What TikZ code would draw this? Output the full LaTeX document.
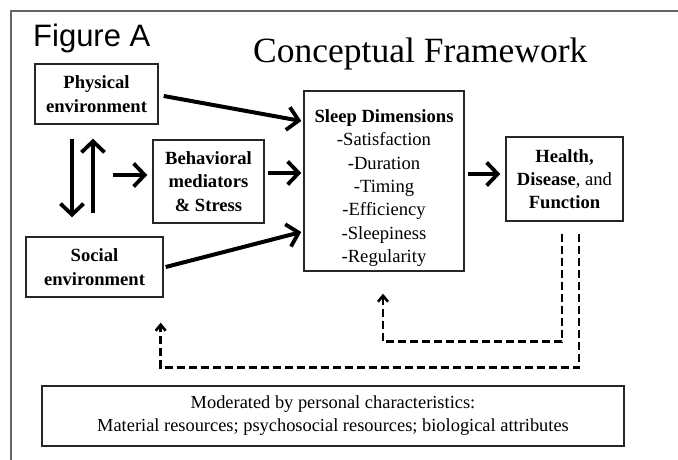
\documentclass[tikz,border=0pt]{standalone}
\usepackage{fontspec}
\setmainfont{Liberation Serif}
\newfontfamily\arialfont{Liberation Sans}
\usetikzlibrary{arrows.meta,calc,shadows}
\begin{document}
\begin{tikzpicture}[x=1pt,y=-1pt,
  boxnode/.style={draw=black!85, fill=white, line width=1.4pt, align=center, inner sep=0pt,
    drop shadow={opacity=0.25, shadow xshift=1.2pt, shadow yshift=-1.2pt}},
  boxfont/.style={font=\fontsize{18.6}{23.3}\selectfont},
  arr/.style={line width=4pt, -{Straight Barb[length=11pt,width=23pt,line width=3.8pt]}},
  dsh/.style={line width=2.6pt, dash pattern=on 8pt off 4pt, -{Straight Barb[length=6pt,width=10pt,line width=2.6pt]}},
  frameline/.style={draw=black!60, line width=2pt}]
\useasboundingbox (0,0) rectangle (678,460);
% outer frame (top and left)
\draw[frameline] (11,460) -- (11,11) -- (678,11);
% titles
\node[anchor=base west, inner sep=0pt, font=\arialfont\fontsize{31}{36}\selectfont] (figA) at (33,47) {Figure A};
\node[anchor=base west, inner sep=0pt, font=\fontsize{35.5}{40}\selectfont] (title) at (253,63) {Conceptual Framework};
% boxes
\node[boxnode, boxfont, minimum width=123pt, minimum height=60pt] (phys) at (96.5,94) {\textbf{Physical}\\\textbf{environment}};
\node[boxnode, boxfont, minimum width=111pt, minimum height=83pt] (beh) at (208.5,181.5) {\textbf{Behavioral}\\\textbf{mediators}\\\textbf{\& Stress}};
\node[boxnode, boxfont, minimum width=160pt, minimum height=180pt] (sleep) at (384,181) {\rule{0pt}{27pt}\textbf{Sleep Dimensions}\\-Satisfaction\\-Duration\\-Timing\\-Efficiency\\-Sleepiness\\-Regularity};
\node[boxnode, boxfont, minimum width=117pt, minimum height=84pt] (health) at (564.5,179) {\textbf{Health,}\\\textbf{Disease}, and\\\textbf{Function}};
\node[boxnode, boxfont, minimum width=137pt, minimum height=60pt] (soc) at (94.5,267) {\textbf{Social}\\\textbf{environment}};
\node[boxnode, font=\fontsize{18.4}{23}\selectfont, minimum width=582pt, minimum height=60pt] (mod) at (333,416) {Moderated by personal characteristics:\\Material resources; psychosocial resources; biological attributes};
% solid arrows
\draw[arr] ($(phys.east)+(5,2)$) -- ($(sleep.west)+(-2,-60)$);
\draw[arr] ($(phys.south)+(-24.5,14)$) -- ($(soc.north)+(-22.5,-19)$);
\draw[arr] ($(soc.north)+(-1.5,-23)$) -- ($(phys.south)+(-3.5,14)$);
\coordinate (midpt) at (113,175);
\draw[arr] (midpt) -- ($(beh.west)+(-5,-6.5)$);
\draw[arr] ($(beh.east)+(3,-8.5)$) -- ($(sleep.west)+(-2,-8)$);
\draw[arr] ($(soc.east)+(2,0)$) -- ($(sleep.west)+(-2,51)$);
\draw[arr] ($(sleep.east)+(3,-7)$) -- ($(health.west)+(-5,-5)$);
% dashed feedback
\draw[dsh] ($(health.south)+(-2.5,12)$) -- ++(0,108) -| ($(sleep.south)+(-1,22)$);
\draw[dsh] ($(health.south)+(14.5,12)$) -- ++(0,134) -| ($(soc.south east)+(-3,25)$);
\end{tikzpicture}
\end{document}
